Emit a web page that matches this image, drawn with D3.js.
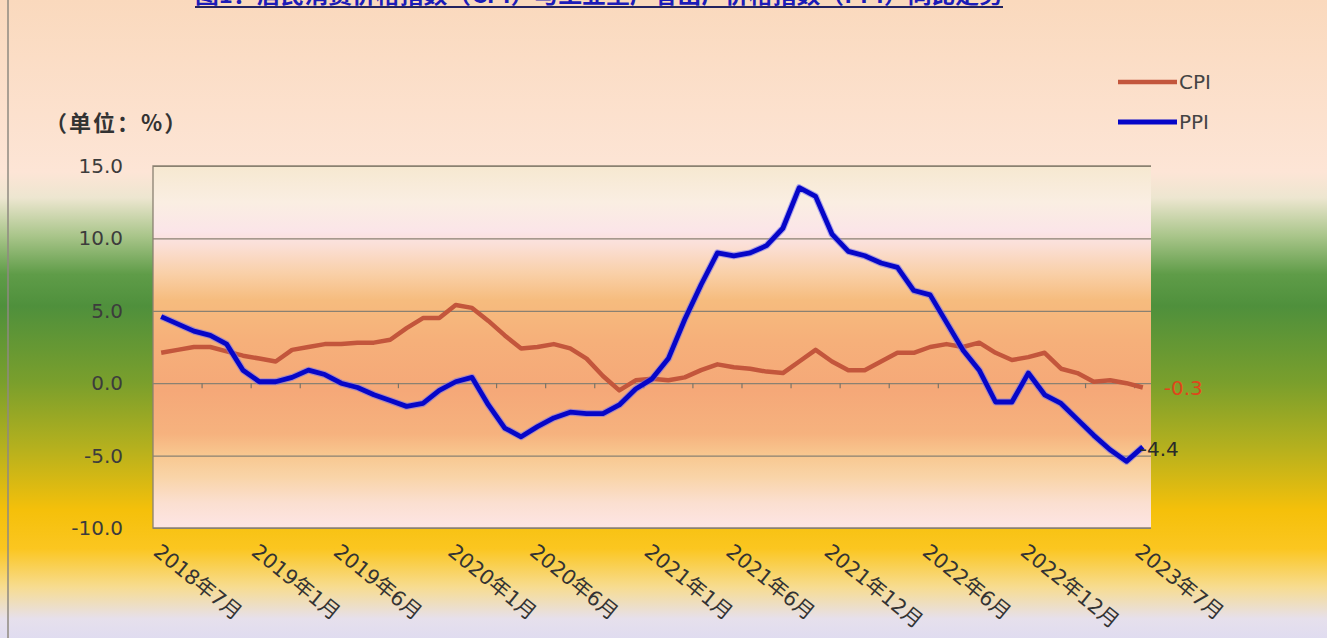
<!DOCTYPE html>
<html>
  <head>
    <meta charset="UTF-8">
    <style>
      body {
        margin: 0;
      }

      svg {
        display: block;
        font-family: "DejaVu Sans", "Noto Sans CJK SC", sans-serif;
      }

      .y-label {
        font-size: 20px;
        fill: #3c3c3c;
      }

      .x-label {
        font-size: 20.5px;
        fill: #333;
      }

      .legend-label {
        font-size: 20px;
        fill: #444;
      }

      .end-label {
        font-size: 20px;
      }
    </style>
    <script src="https://d3js.org/d3.v7.min.js"></script>
  </head>

  <body>
    <svg id="chart"></svg>

    <script type="text/javascript">
      // monthly categories, Jul 2018 .. Jul 2023
      let categories = [
        '2018年7月', '2018年8月', '2018年9月', '2018年10月', '2018年11月', '2018年12月',
        '2019年1月', '2019年2月', '2019年3月', '2019年4月', '2019年5月', '2019年6月',
        '2019年7月', '2019年8月', '2019年9月', '2019年10月', '2019年11月', '2019年12月',
        '2020年1月', '2020年2月', '2020年3月', '2020年4月', '2020年5月', '2020年6月',
        '2020年7月', '2020年8月', '2020年9月', '2020年10月', '2020年11月', '2020年12月',
        '2021年1月', '2021年2月', '2021年3月', '2021年4月', '2021年5月', '2021年6月',
        '2021年7月', '2021年8月', '2021年9月', '2021年10月', '2021年11月', '2021年12月',
        '2022年1月', '2022年2月', '2022年3月', '2022年4月', '2022年5月', '2022年6月',
        '2022年7月', '2022年8月', '2022年9月', '2022年10月', '2022年11月', '2022年12月',
        '2023年1月', '2023年2月', '2023年3月', '2023年4月', '2023年5月', '2023年6月',
        '2023年7月'
      ]

      let cpiValues = [
        2.1, 2.3, 2.5, 2.5, 2.2, 1.9,
        1.7, 1.5, 2.3, 2.5, 2.7, 2.7, 2.8, 2.8, 3.0, 3.8, 4.5, 4.5,
        5.4, 5.2, 4.3, 3.3, 2.4, 2.5, 2.7, 2.4, 1.7, 0.5, -0.5, 0.2,
        0.3, 0.2, 0.4, 0.9, 1.3, 1.1, 1.0, 0.8, 0.7, 1.5, 2.3, 1.5,
        0.9, 0.9, 1.5, 2.1, 2.1, 2.5, 2.7, 2.5, 2.8, 2.1, 1.6, 1.8,
        2.1, 1.0, 0.7, 0.1, 0.2, 0.0, -0.3
      ]

      let ppiValues = [
        4.6, 4.1, 3.6, 3.3, 2.7, 0.9,
        0.1, 0.1, 0.4, 0.9, 0.6, 0.0, -0.3, -0.8, -1.2, -1.6, -1.4, -0.5,
        0.1, 0.4, -1.5, -3.1, -3.7, -3.0, -2.4, -2.0, -2.1, -2.1, -1.5, -0.4,
        0.3, 1.7, 4.4, 6.8, 9.0, 8.8, 9.0, 9.5, 10.7, 13.5, 12.9, 10.3,
        9.1, 8.8, 8.3, 8.0, 6.4, 6.1, 4.2, 2.3, 0.9, -1.3, -1.3, 0.7,
        -0.8, -1.4, -2.5, -3.6, -4.6, -5.4, -4.4
      ]

      let xTickLabels = [
        '2018年7月', '2019年1月', '2019年6月', '2020年1月', '2020年6月', '2021年1月',
        '2021年6月', '2021年12月', '2022年6月', '2022年12月', '2023年7月'
      ]

      let yTicks = [-10, -5, 0, 5, 10, 15]
      let seriesNames = ['CPI', 'PPI']
      let titleText = '图1：居民消费价格指数（CPI）与工业生产者出厂价格指数（PPI）同比走势'
      let unitText = '（单位：%）'

      function getConfig() {
        let width = 1327
        let height = 638
        let plot = {left: 153, right: 1151, top: 166, bottom: 528}

        let container = d3.select('#chart')
          .attr('width', width)
          .attr('height', height)

        return {width, height, plot, container}
      }

      function addGradient(defs, id, stops) {
        let grad = defs.append('linearGradient')
          .attr('id', id)
          .attr('x1', 0).attr('y1', 0)
          .attr('x2', 0).attr('y2', 1)
        grad.selectAll('stop')
          .data(stops)
          .join('stop')
            .attr('offset', d => d[0])
            .attr('stop-color', d => d[1])
      }

      function drawBackground(config) {
        let {width, height, plot, container} = config
        let defs = container.append('defs')

        addGradient(defs, 'page-bg', [
          [0, '#fad9bd'], [0.27, '#fde5d6'], [0.31, '#ede6d0'],
          [0.37, '#a9c58a'], [0.43, '#5f9c48'], [0.48, '#4f903c'],
          [0.6, '#7a9f2c'], [0.7, '#b4b01e'], [0.8, '#f5c00a'],
          [0.86, '#fbc620'], [0.92, '#f7dc90'], [0.97, '#e6e0ec'], [1, '#e0dcf0']
        ])

        addGradient(defs, 'plot-bg', [
          [0, '#f6e8d0'], [0.1, '#faeee2'], [0.18, '#fbe5e8'], [0.22, '#fbdfd6'],
          [0.3, '#f9cfa6'], [0.37, '#f6bc7e'], [0.48, '#f6b07a'], [0.62, '#f5a878'],
          [0.74, '#f6b27e'], [0.8, '#f8c890'], [0.86, '#f9d4a8'], [0.93, '#fbdfd0'],
          [1, '#fde5e5']
        ])

        container.append('rect')
          .attr('width', width)
          .attr('height', height)
          .attr('fill', 'url(#page-bg)')

        container.append('line')
          .attr('x1', 8).attr('x2', 8)
          .attr('y1', 0).attr('y2', height)
          .attr('stroke', '#8f8a80')
          .attr('stroke-width', 1.5)

        container.append('rect')
          .attr('x', plot.left)
          .attr('y', plot.top)
          .attr('width', plot.right - plot.left)
          .attr('height', plot.bottom - plot.top)
          .attr('fill', 'url(#plot-bg)')
      }

      function getScales(plot) {
        let x = d3.scaleBand()
          .domain(categories)
          .range([plot.left, plot.right])
          .paddingInner(0)
          .paddingOuter(0)

        let y = d3.scaleLinear()
          .domain([-10, 15])
          .range([plot.bottom, plot.top])

        return {x, y}
      }

      function drawAxes(config, scales) {
        let {plot, container} = config
        let {x, y} = scales

        // gridlines + y labels
        let yAxis = container.append('g')
          .attr('transform', `translate(${plot.left}, 0)`)
          .call(d3.axisLeft(y)
            .tickValues(yTicks)
            .tickFormat(d => d.toFixed(1))
            .tickSize(-(plot.right - plot.left))
            .tickPadding(30))
          .attr('font-family', null)
          .attr('font-size', null)
        yAxis.select('.domain').remove()
        yAxis.selectAll('.tick line')
          .attr('stroke', '#8a8172')
          .attr('stroke-width', 1.2)
        yAxis.selectAll('.tick text')
          .attr('class', 'y-label')

        // plot frame: left, top, bottom
        let frame = d3.path()
        frame.moveTo(plot.right, plot.top)
        frame.lineTo(plot.left, plot.top)
        frame.lineTo(plot.left, plot.bottom)
        frame.lineTo(plot.right, plot.bottom)
        container.append('path')
          .attr('d', frame.toString())
          .attr('fill', 'none')
          .attr('stroke', '#8a8172')
          .attr('stroke-width', 1.3)

        // category axis sits on the zero line, a tick every 3 months
        let boundaries = categories.filter((c, i) => i > 0 && i % 3 == 0)
        container.append('g')
          .selectAll('line')
          .data(boundaries)
          .join('line')
            .attr('x1', d => x(d))
            .attr('x2', d => x(d))
            .attr('y1', y(0))
            .attr('y2', y(0) + 5)
            .attr('stroke', '#7d7466')
            .attr('stroke-width', 1.2)

        container.append('g')
          .selectAll('text')
          .data(xTickLabels)
          .join('text')
            .attr('class', 'x-label')
            .attr('transform', d => `translate(${x(d) + x.bandwidth() / 2 - 9}, 554) rotate(39)`)
            .text(d => d)

        container.append('text')
          .attr('x', 45)
          .attr('y', 131)
          .attr('font-family', '"Noto Sans CJK SC", sans-serif')
          .attr('font-size', 22)
          .attr('letter-spacing', 2)
          .attr('font-weight', 'bold')
          .attr('fill', '#333')
          .text(unitText)
      }

      function drawLines(config, scales) {
        let {container} = config
        let {x, y} = scales
        let cx = (d, i) => x(categories[i]) + x.bandwidth() / 2

        let line = d3.line()
          .x(cx)
          .y(d => y(d))

        container.append('path')
          .datum(cpiValues)
          .attr('d', line)
          .attr('fill', 'none')
          .attr('stroke', '#c3563c')
          .attr('stroke-width', 4.5)
          .attr('stroke-linejoin', 'round')

        container.append('path')
          .datum(ppiValues)
          .attr('d', line)
          .attr('fill', 'none')
          .attr('stroke', '#6f6ff0')
          .attr('stroke-opacity', 0.55)
          .attr('stroke-width', 7)
          .attr('stroke-linejoin', 'round')

        container.append('path')
          .datum(ppiValues)
          .attr('d', line)
          .attr('fill', 'none')
          .attr('stroke', '#0606c8')
          .attr('stroke-width', 4.8)
          .attr('stroke-linejoin', 'round')

        // end-of-line value labels
        let last = categories.length - 1
        let lastX = cx(null, last)

        container.append('text')
          .attr('class', 'end-label')
          .attr('x', lastX + 21)
          .attr('y', y(cpiValues[last]))
          .attr('dy', '0.35em')
          .attr('fill', '#e0461a')
          .text(cpiValues[last].toFixed(1))

        container.append('text')
          .attr('class', 'end-label')
          .attr('x', lastX - 3)
          .attr('y', y(ppiValues[last]) + 2)
          .attr('dy', '0.35em')
          .attr('fill', '#2a2a2a')
          .text(ppiValues[last].toFixed(1))
      }

      function drawLegend(config) {
        let {container} = config
        let colors = ['#c3563c', '#0606c8']

        let items = container.append('g')
          .attr('transform', 'translate(1118, 82)')
          .selectAll('g')
          .data(seriesNames)
          .join('g')
            .attr('transform', (d, i) => `translate(0, ${i * 40})`)

        items.append('line')
          .attr('x1', 0)
          .attr('x2', 59)
          .attr('stroke', (d, i) => colors[i])
          .attr('stroke-width', (d, i) => i == 0 ? 4.5 : 5)

        items.append('text')
          .attr('class', 'legend-label')
          .attr('x', 61)
          .attr('dy', '0.36em')
          .text(d => d)
      }

      function drawTitle(config) {
        let {container} = config

        container.append('text')
          .attr('x', 195)
          .attr('y', 3)
          .attr('font-family', '"Noto Sans CJK SC", sans-serif')
          .attr('font-size', 22)
          .attr('font-weight', 'bold')
          .attr('fill', '#1c1cb8')
          .attr('textLength', 808)
          .attr('lengthAdjust', 'spacingAndGlyphs')
          .text(titleText)

        container.append('line')
          .attr('x1', 195)
          .attr('x2', 1003)
          .attr('y1', 7)
          .attr('y2', 7)
          .attr('stroke', '#23235e')
          .attr('stroke-width', 2)
      }

      function showChart() {
        let config = getConfig()
        let scales = getScales(config.plot)
        drawBackground(config)
        drawTitle(config)
        drawAxes(config, scales)
        drawLines(config, scales)
        drawLegend(config)
      }

      showChart()
    </script>
  </body>
</html>
